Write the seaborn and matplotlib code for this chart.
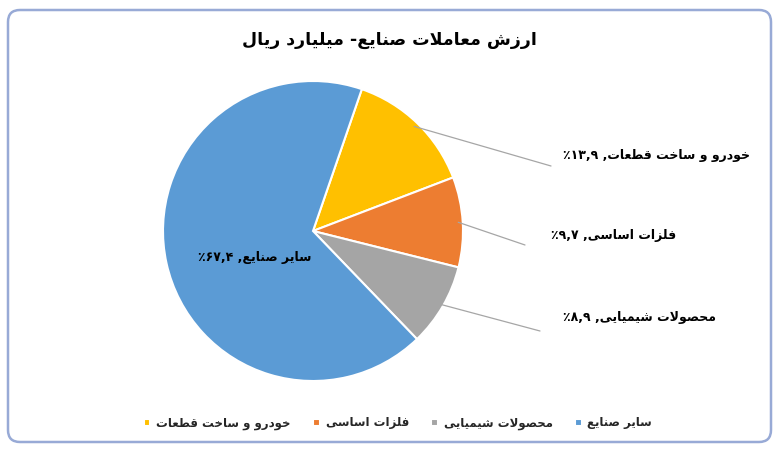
import numpy as np
import matplotlib
matplotlib.use("Agg")
import matplotlib.pyplot as plt
import seaborn as sns
from matplotlib.patches import FancyBboxPatch

# ---------------------------------
# DATA
# ---------------------------------

title = "ارزش معاملات صنایع- میلیارد ریال"
sectors = ["خودرو و ساخت قطعات", "فلزات اساسی", "محصولات شیمیایی", "سایر صنایع"]
shares = [13.9, 9.7, 8.9, 67.4]
colors = ["#FFC000", "#ED7D31", "#A5A5A5", "#5B9BD5"]

# ---------------------------------
# SIMPLE PERSIAN SHAPING (matplotlib has no bidi / shaping)
# ---------------------------------

RIGHT_ONLY = {"ا": 0xFE8D, "د": 0xFEA9, "ر": 0xFEAD, "ز": 0xFEAF, "و": 0xFEED}
DUAL = {"ت": 0xFE95, "ح": 0xFEA1, "خ": 0xFEA5, "س": 0xFEB1, "ش": 0xFEB5,
        "ص": 0xFEB9, "ط": 0xFEC1, "ع": 0xFEC9, "ف": 0xFED1, "ق": 0xFED5,
        "ل": 0xFEDD, "م": 0xFEE1, "ن": 0xFEE5}
YEH = (0xFEEF, 0xFEF0, 0xFEF3, 0xFEF4)


def forms(c):
    if c in RIGHT_ONLY:
        b = RIGHT_ONLY[c]
        return (b, b + 1, None, None)
    if c in DUAL:
        b = DUAL[c]
        return (b, b + 1, b + 2, b + 3)
    if c == "ی":
        return YEH
    return None


def fa(text):
    out = []
    prev_joins = False
    i = 0
    while i < len(text):
        c = text[i]
        f = forms(c)
        if f is None:
            out.append(c)
            prev_joins = False
            i += 1
            continue
        nxt = text[i + 1] if i + 1 < len(text) else ""
        if c == "ل" and nxt == "ا":
            out.append(chr(0xFEFC if prev_joins else 0xFEFB))
            prev_joins = False
            i += 2
            continue
        next_joins = f[2] is not None and forms(nxt) is not None
        if prev_joins and next_joins:
            g = f[3]
        elif prev_joins:
            g = f[1]
        elif next_joins:
            g = f[2]
        else:
            g = f[0]
        out.append(chr(g))
        prev_joins = f[2] is not None
        i += 1
    return "".join(out)[::-1]


def fa_num(v):
    s = f"{v:.1f}".replace(".", ",")
    return s.translate(str.maketrans("0123456789", "۰۱۲۳۴۵۶۷۸۹"))


def label(name, v):
    return "٪" + fa_num(v) + " ," + fa(name)


# ---------------------------------
# PLOT
# ---------------------------------

sns.set_theme(style="white")
plt.rcParams["font.family"] = ["DejaVu Sans"]

W, H = 778, 449
fig = plt.figure(figsize=(W / 100, H / 100), dpi=100)
ax = fig.add_axes([0, 0, 1, 1])

cx, cy, r = 313, H - 231, 150

wedges, _ = ax.pie(
    shares,
    colors=colors,
    startangle=71,
    counterclock=False,
    center=(cx, cy),
    radius=r,
    wedgeprops=dict(edgecolor="white", linewidth=1.5),
)

ax.set_xlim(0, W)
ax.set_ylim(0, H)
ax.set_aspect("equal")
ax.axis("off")

# outer rounded frame
frame = FancyBboxPatch((8, 7), 763, 432,
                       boxstyle="round,pad=0,rounding_size=12",
                       ec="#98AAD6", fc="none", lw=1.8, clip_on=False)
ax.add_patch(frame)

ax.text(W / 2, H - 40, fa(title), ha="center", va="center",
        fontsize=12.5, fontweight="bold", color="black")

# outside labels with leader lines
line_ends = [(551, H - 166), (525, H - 245), (540, H - 331)]
text_pos = [(563, H - 155), (551, H - 235), (563, H - 318)]
for k in range(3):
    w = wedges[k]
    mid = np.deg2rad((w.theta1 + w.theta2) / 2)
    x0 = cx + 0.97 * r * np.cos(mid)
    y0 = cy + 0.97 * r * np.sin(mid)
    ax.plot([x0, line_ends[k][0]], [y0, line_ends[k][1]],
            color="#A6A6A6", lw=0.9)
    ax.text(text_pos[k][0], text_pos[k][1], label(sectors[k], shares[k]),
            ha="left", va="center", fontsize=9, fontweight="bold",
            color="black")

# inside label of the big slice
ax.text(255, H - 257, label(sectors[3], shares[3]), ha="center",
        va="center", fontsize=9, fontweight="bold", color="black")

ax.legend(
    wedges,
    [fa(s) for s in sectors],
    loc="center",
    bbox_to_anchor=(398 / W, 1 - 423 / H),
    bbox_transform=fig.transFigure,
    ncol=4,
    frameon=False,
    handlelength=0.55,
    handleheight=0.55,
    handletextpad=0.5,
    columnspacing=1.9,
    prop=dict(weight="bold", size=8.5),
)

fig.savefig("out.png", dpi=100)
